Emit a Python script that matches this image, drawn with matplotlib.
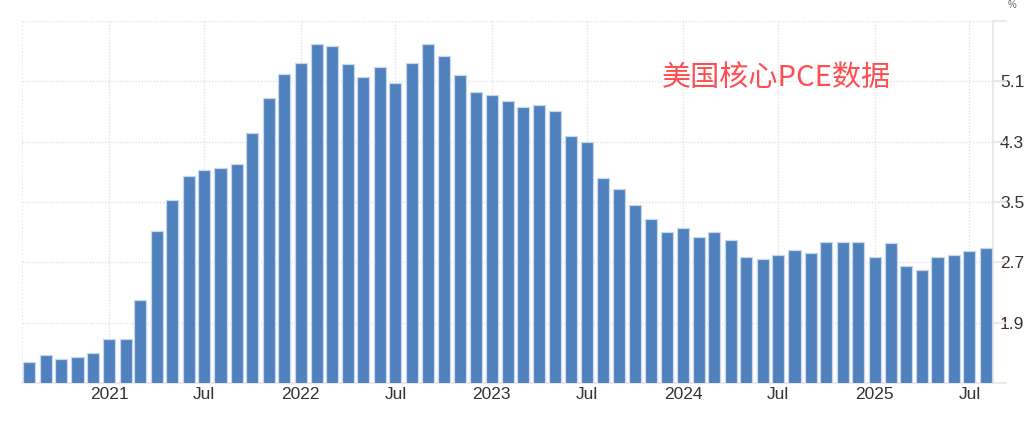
import matplotlib
matplotlib.use("Agg")
import matplotlib.pyplot as plt
import matplotlib.dates as mdates
import matplotlib.transforms as mtransforms
import pandas as pd

# ── Data ─────────────────────────────────────────────────────────────────── #
FIRST_MONTH = "2020-08-01"
core_pce = [
    1.38, 1.47, 1.42, 1.45, 1.50, 1.69, 1.69, 2.20,
    3.12, 3.53, 3.85, 3.92, 3.95, 4.00, 4.42, 4.88,
    5.20, 5.34, 5.59, 5.57, 5.33, 5.16, 5.29, 5.08,
    5.34, 5.59, 5.44, 5.18, 4.96, 4.92, 4.84, 4.76,
    4.78, 4.71, 4.37, 4.29, 3.82, 3.67, 3.46, 3.28,
    3.10, 3.15, 3.04, 3.10, 2.99, 2.77, 2.75, 2.80,
    2.86, 2.83, 2.97, 2.97, 2.97, 2.77, 2.96, 2.65,
    2.60, 2.77, 2.80, 2.85, 2.89,
]
y_ticks = [1.9, 2.7, 3.5, 4.3, 5.1]
y_min, y_max = 1.1, 5.9
x_start, x_end = "2020-07-18", "2025-08-15"
title_text = "美国核心PCE数据"

months = pd.date_range(FIRST_MONTH, periods=len(core_pce), freq="MS")

# ── Style ────────────────────────────────────────────────────────────────── #
BAR = "#4e81bd"
BAR_EDGE = "#c9d7ea"
GRID = "#e3e3e3"
AXIS = "#e6e6e6"
TEXT = "#333333"

plt.rcParams.update({
    "font.family": ["Liberation Sans", "DejaVu Sans"],
    "font.size": 12.5,
})

fig = plt.figure(figsize=(10.24, 4.21), dpi=100)
ax = fig.add_axes([22 / 1024, 1 - 383 / 421, (993 - 22) / 1024, (383 - 21) / 421])

x = mdates.date2num(months)
ax.bar(x, core_pce, width=23, color=BAR, edgecolor=BAR_EDGE, linewidth=0.9,
       bottom=0, zorder=3)

ax.set_xlim(mdates.date2num(pd.Timestamp(x_start)), mdates.date2num(pd.Timestamp(x_end)))
ax.set_ylim(y_min, y_max)

ax.xaxis.set_major_locator(mdates.MonthLocator(bymonth=[1, 7]))
ax.xaxis.set_major_formatter(plt.FuncFormatter(
    lambda v, _: str(mdates.num2date(v).year) if mdates.num2date(v).month == 1 else "Jul"))

ax.set_yticks(y_ticks + [y_max])
ax.set_yticklabels([f"{t:.1f}" for t in y_ticks] + [""])
ax.yaxis.tick_right()

ax.tick_params(axis="both", length=0, colors=TEXT, labelsize=12.5)
ax.tick_params(axis="x", pad=3)
ax.tick_params(axis="y", pad=5)

ax.grid(True, which="major", color=GRID, linestyle=(0, (1, 1.2)), linewidth=1, zorder=0)

for side in ("top", "left"):
    ax.spines[side].set_visible(False)
for side in ("right", "bottom"):
    ax.spines[side].set_color(AXIS)
    ax.spines[side].set_linewidth(1.2)

# left dotted border and short gridline stubs to the right of the axis
ax.axvline(ax.get_xlim()[0], color=GRID, linestyle=(0, (1, 1.2)), linewidth=1.2, zorder=0)
trans = mtransforms.blended_transform_factory(ax.transAxes, ax.transData)
for t in y_ticks + [y_max, y_min]:
    ax.plot([1.0, 1.013], [t, t], color=AXIS, linewidth=1.2, transform=trans,
            clip_on=False)

# unit marker at the top right
fig.text(1012 / 1024, 1 - 5 / 421, "%", color="#666666", fontsize=7,
         ha="center", va="center")

ax.text(662 / 1024, 1 - 78 / 421, title_text, transform=fig.transFigure,
        color="#ff4d52", fontsize=21, ha="left", va="center",
        family=["Noto Sans CJK SC", "DejaVu Sans"])

fig.savefig("out.png", dpi=100)
